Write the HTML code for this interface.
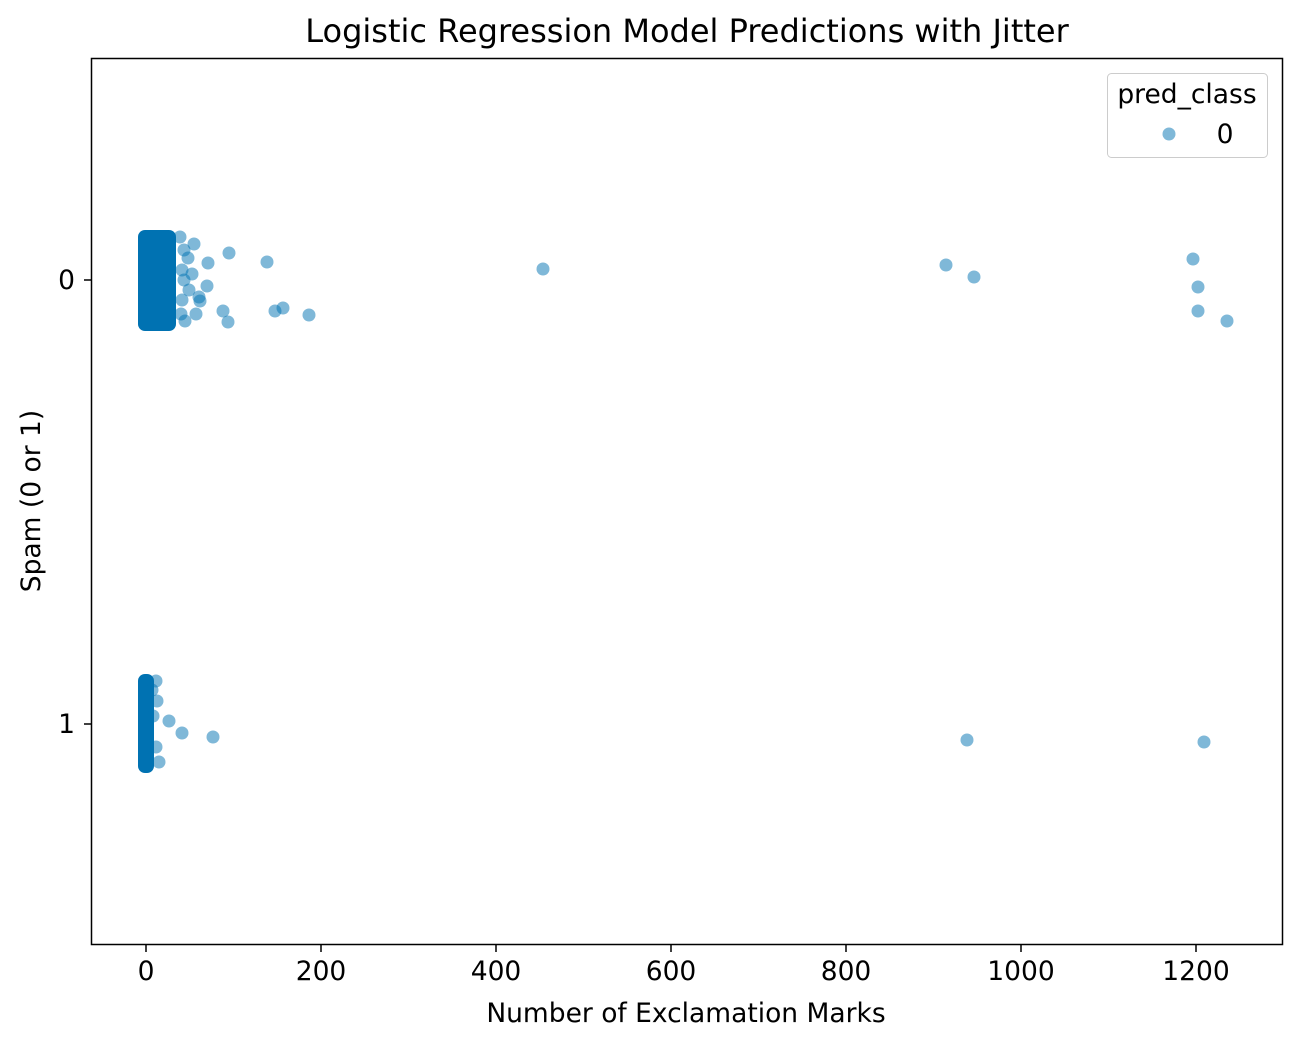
<!DOCTYPE html>
<html><head><style>body{margin:0;background:#fff}</style></head><body>
<svg width="1301" height="1046" xmlns="http://www.w3.org/2000/svg" font-family="'DejaVu Sans', 'Liberation Sans', sans-serif">
<rect width="1301" height="1046" fill="#fff"/>
<text x="687" y="42" font-size="32" text-anchor="middle">Logistic Regression Model Predictions with Jitter</text>
<g fill="#0072b2">
<rect x="138" y="230" width="38" height="101" rx="7" fill="#0072b2"/>
<rect x="138" y="674" width="16" height="99" rx="7" fill="#0072b2"/>
</g>
<g fill="#0072b2" fill-opacity="0.5">
<circle cx="229" cy="253" r="6.5"/><circle cx="267" cy="262" r="6.5"/><circle cx="543" cy="269" r="6.5"/>
<circle cx="946" cy="265" r="6.5"/><circle cx="974" cy="277" r="6.5"/><circle cx="1193" cy="259" r="6.5"/>
<circle cx="1198" cy="287" r="6.5"/><circle cx="1198" cy="311" r="6.5"/><circle cx="1227" cy="321" r="6.5"/>
<circle cx="275" cy="311" r="6.5"/><circle cx="283" cy="308" r="6.5"/><circle cx="309" cy="315" r="6.5"/>
<circle cx="228" cy="322" r="6.5"/><circle cx="223" cy="311" r="6.5"/><circle cx="208" cy="263" r="6.5"/>
<circle cx="194" cy="244" r="6.5"/><circle cx="188" cy="258" r="6.5"/><circle cx="199" cy="297" r="6.5"/>
<circle cx="196" cy="314" r="6.5"/><circle cx="185" cy="321" r="6.5"/><circle cx="200" cy="301" r="6.5"/>
<circle cx="192" cy="274" r="6.5"/><circle cx="184" cy="250" r="6.5"/><circle cx="189" cy="290" r="6.5"/>
<circle cx="207" cy="286" r="6.5"/><circle cx="180" cy="237" r="6.5"/><circle cx="182" cy="270" r="6.5"/>
<circle cx="182" cy="300" r="6.5"/><circle cx="184" cy="280" r="6.5"/><circle cx="181" cy="314" r="6.5"/>
<circle cx="169" cy="721" r="6.5"/><circle cx="182" cy="733" r="6.5"/><circle cx="213" cy="737" r="6.5"/>
<circle cx="967" cy="740" r="6.5"/><circle cx="1204" cy="742" r="6.5"/><circle cx="159" cy="762" r="6.5"/>
<circle cx="156" cy="747" r="6.5"/><circle cx="156" cy="681" r="6.5"/><circle cx="153" cy="716" r="6.5"/>
<circle cx="152" cy="690" r="6.5"/><circle cx="157" cy="701" r="6.5"/>
</g>
<rect x="91.5" y="58.5" width="1191" height="886" fill="none" stroke="#000" stroke-width="1.5"/>
<g stroke="#000" stroke-width="1.5">
<line x1="146" y1="945" x2="146" y2="952"/><line x1="321" y1="945" x2="321" y2="952"/>
<line x1="496" y1="945" x2="496" y2="952"/><line x1="671" y1="945" x2="671" y2="952"/>
<line x1="846" y1="945" x2="846" y2="952"/><line x1="1021" y1="945" x2="1021" y2="952"/>
<line x1="1196" y1="945" x2="1196" y2="952"/>
<line x1="84" y1="280" x2="91" y2="280"/><line x1="84" y1="724" x2="91" y2="724"/>
</g>
<g font-size="26.5" text-anchor="middle">
<text x="146" y="980">0</text><text x="321" y="980">200</text><text x="496" y="980">400</text>
<text x="671" y="980">600</text><text x="846" y="980">800</text><text x="1021" y="980">1000</text>
<text x="1196" y="980">1200</text>
<text x="686" y="1022">Number of Exclamation Marks</text>
</g>
<g font-size="26.5" text-anchor="end">
<text x="75" y="289">0</text><text x="75" y="733">1</text>
</g>
<text transform="translate(40,501) rotate(-90)" font-size="26.5" text-anchor="middle">Spam (0 or 1)</text>
<rect x="1107.5" y="73.5" width="160" height="84" rx="4" fill="#fff" stroke="#ccc"/>
<text x="1187" y="103" font-size="26.5" text-anchor="middle">pred_class</text>
<circle cx="1169" cy="134" r="6.5" fill="#0072b2" fill-opacity="0.5"/>
<text x="1225" y="143" font-size="26.5" text-anchor="middle">0</text>
</svg>
</body></html>
